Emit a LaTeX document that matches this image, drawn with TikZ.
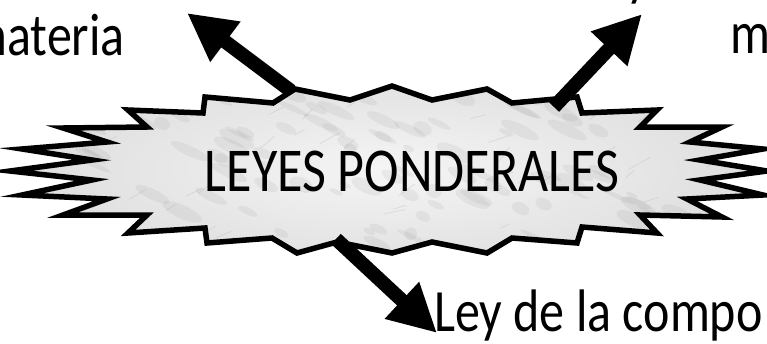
\documentclass[tikz,border=0pt]{standalone}
\usepackage{fontspec}
\usepackage{graphicx}
\setmainfont{Carlito}
\usetikzlibrary{arrows.meta}
\newcommand{\tallt}[1]{\scalebox{1}[1.2]{#1}}
\begin{document}
\begin{tikzpicture}[x=1pt,y=-1pt,
  burst/.style={draw=black, line width=5.5pt, line join=miter, miter limit=25},
  bigarrow/.style={draw=black, line width=14pt, -{Triangle[length=48pt,width=47pt]}},
  lbl/.style={inner sep=0pt, font=\fontsize{50}{60}\selectfont},
  title/.style={inner sep=0pt, font=\fontsize{52}{62}\selectfont}]
\useasboundingbox (0,0) rectangle (767,343);
\def\burstpath{(205,97) -- (273,103) -- (295,89) -- (350,100) -- (392,86) -- (432,100) -- (487,89) -- (512,103) -- (577,97) -- (582,113) -- (657,110) -- (640,127) -- (722,127) -- (690,142) -- (763,149) -- (700,160) -- (767,171) -- (700,180) -- (763,195) -- (687,199) -- (722,217) -- (640,215) -- (657,233) -- (582,227) -- (577,243) -- (512,238) -- (487,253) -- (432,242) -- (392,253) -- (337,242) -- (297,253) -- (272,238) -- (207,243) -- (205,228) -- (128,233) -- (147,215) -- (63,215) -- (107,199) -- (22,195) -- (92,180) -- (10,171) -- (92,160) -- (22,149) -- (107,142) -- (63,128) -- (147,127) -- (128,110) -- (203,113) -- cycle}
\begin{scope}
  \clip \burstpath;
  \shade[inner color=gray!8, outer color=gray!28] (390,170) ellipse (420 and 120);
  \pgfmathsetseed{11}
  \foreach \i in {1,...,260}{
    \fill[gray, opacity=0.10, rotate around={-25:(390,170)}] ({rnd*780},{40+rnd*260}) ellipse ({6+rnd*16} and {2+rnd*5});
  }
  \foreach \i in {1,...,40}{
    \draw[gray!70, opacity=0.25, line width=0.8pt] ({rnd*760},{90+rnd*160}) -- ++({8+rnd*14},{-4-rnd*8});
  }
\end{scope}
\draw[burst] \burstpath;
\node[title, anchor=base] (lp) at (412,191) {\tallt{LEYES PONDERALES}};
\node[lbl, anchor=base east] (mat) at (125,55) {\tallt{materia}};
\node[lbl, anchor=base west] (mm) at (730,53) {\tallt{m}};
\node[lbl, anchor=base west] (ley) at (434,331) {\tallt{Ley de la compo}};
\node[lbl, anchor=base west] (yy) at (626,-6) {\tallt{y}};
\coordinate (s1) at (291,91);
\coordinate (e1) at (187,13);
\coordinate (s2) at (554,107);
\coordinate (e2) at (642,14);
\coordinate (s3) at (336,239);
\coordinate (e3) at (437,333);
\draw[bigarrow] (s1) -- (e1);
\draw[bigarrow] (s2) -- (e2);
\draw[bigarrow] (s3) -- (e3);
\end{tikzpicture}
\end{document}
